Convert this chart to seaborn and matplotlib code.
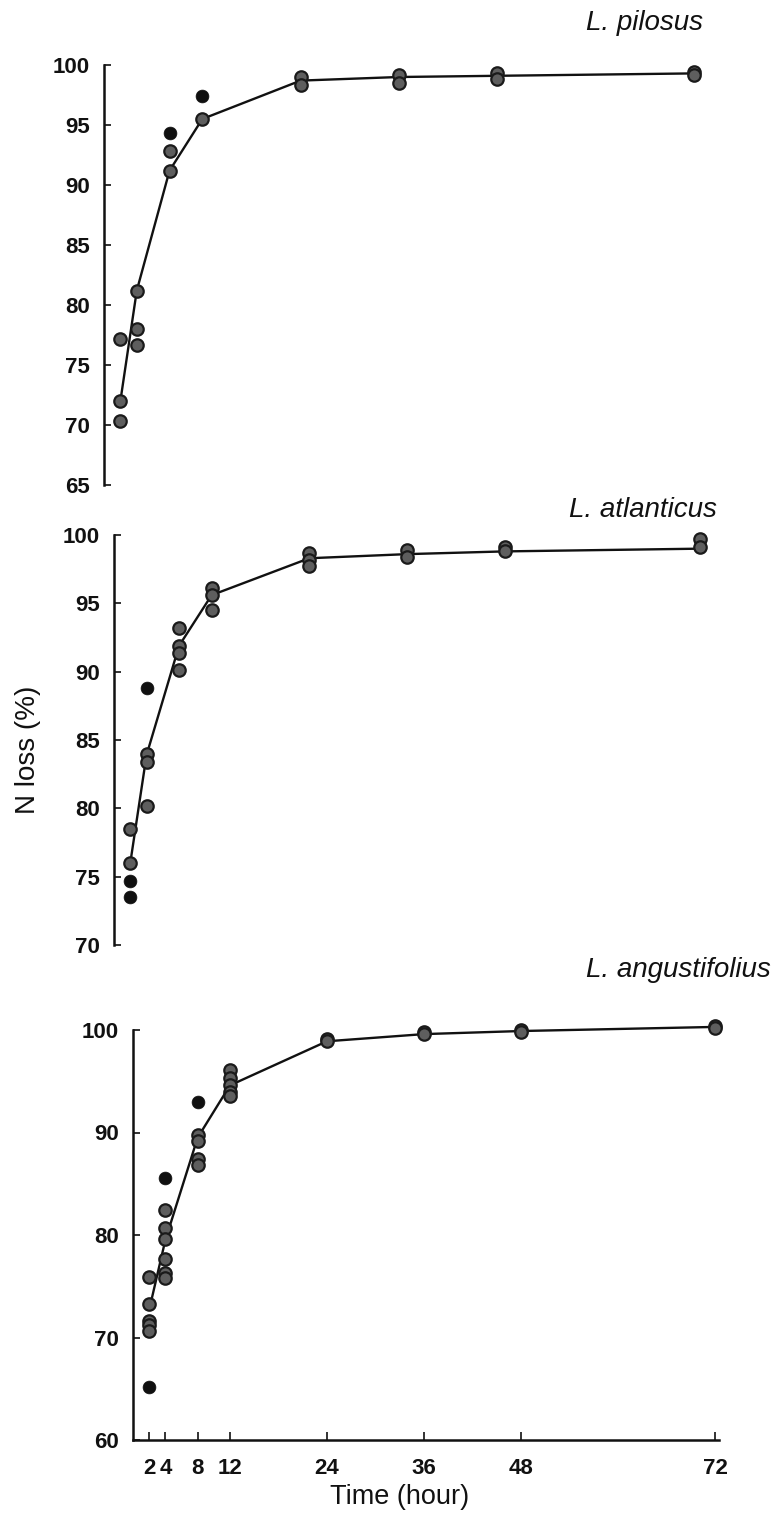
import matplotlib
matplotlib.use("Agg")
import matplotlib.pyplot as plt
import seaborn as sns
import pandas as pd

# ---------------- data ----------------
times = [2, 4, 8, 12, 24, 36, 48, 72]
xtick_labels = ["2", "4", "8", "12", "24", "36", "48", "72"]

species = ["L. pilosus", "L. atlanticus", "L. angustifolius"]

# L. pilosus
pil_t = [2, 2, 2, 4, 4, 4, 8, 8, 8, 12, 12, 24, 24, 36, 36, 48, 48, 72, 72]
pil_v = [77.2, 72.0, 70.3, 81.2, 78.0, 76.7, 94.3, 92.8, 91.2, 97.4, 95.5,
         99.0, 98.3, 99.2, 98.5, 99.3, 98.8, 99.4, 99.2]
pil_k = ["g", "g", "g", "g", "g", "g", "b", "g", "g", "b", "g",
         "g", "g", "g", "g", "g", "g", "g", "g"]
pil_line = [72.0, 81.2, 91.2, 95.5, 98.7, 99.0, 99.1, 99.3]

# L. atlanticus
atl_t = [2, 2, 2, 2, 4, 4, 4, 4, 8, 8, 8, 8, 12, 12, 12, 24, 24, 24,
         36, 36, 48, 48, 72, 72]
atl_v = [78.5, 76.0, 74.7, 73.5, 88.8, 84.0, 83.4, 80.2, 93.2, 91.9, 91.4, 90.1,
         96.1, 95.6, 94.5, 98.7, 98.2, 97.7, 98.9, 98.4, 99.1, 98.8, 99.7, 99.1]
atl_k = ["g", "g", "b", "b", "b", "g", "g", "g", "g", "g", "g", "g",
         "g", "g", "g", "g", "g", "g", "g", "g", "g", "g", "g", "g"]
atl_line = [76.0, 83.9, 91.9, 95.6, 98.3, 98.6, 98.8, 99.0]

# L. angustifolius
ang_t = [2, 2, 2, 2, 2, 2,
         4, 4, 4, 4, 4, 4, 4,
         8, 8, 8, 8, 8,
         12, 12, 12, 12, 12,
         24, 24, 36, 36, 48, 48, 72, 72]
ang_v = [75.9, 73.3, 71.6, 71.2, 70.6, 65.2,
         85.6, 82.4, 80.7, 79.6, 77.7, 76.3, 75.8,
         93.0, 89.8, 89.2, 87.4, 86.8,
         96.1, 95.3, 94.6, 94.0, 93.6,
         99.1, 98.9, 99.8, 99.6, 100.0, 99.8, 100.4, 100.2]
ang_k = ["g", "g", "g", "g", "g", "b",
         "b", "g", "g", "g", "g", "g", "g",
         "b", "g", "g", "g", "g",
         "g", "g", "g", "g", "g",
         "g", "g", "g", "g", "g", "g", "g", "g"]
ang_line = [72.7, 79.5, 89.5, 94.6, 98.9, 99.6, 99.9, 100.3]

yticks_list = [[65, 70, 75, 80, 85, 90, 95, 100],
               [70, 75, 80, 85, 90, 95, 100],
               [60, 70, 80, 90, 100]]
ylims = [(65, 100), (70, 100), (60, 100)]

# ---------------- style ----------------
sns.set_style("ticks")
plt.rcParams["font.family"] = ["Liberation Sans", "DejaVu Sans"]

W, H = 780, 1525
fig = plt.figure(figsize=(W / 100, H / 100), dpi=100)

# axes rectangles in pixels: (left_px, top_px, bottom_px, width_px)
rects = [(104, 65, 485, 594), (114, 535, 945, 590), (133, 1030, 1440, 586)]

panels = [(pil_t, pil_v, pil_k, pil_line),
          (atl_t, atl_v, atl_k, atl_line),
          (ang_t, ang_v, ang_k, ang_line)]

title_pos = [(703, 23), (717, 510), (771, 970)]

for i, ((t, v, k, line), (lp, tp, bp, wp)) in enumerate(zip(panels, rects)):
    ax = fig.add_axes([lp / W, 1 - bp / H, wp / W, (bp - tp) / H])
    df = pd.DataFrame({"t": t, "v": v, "k": k})
    sns.lineplot(x=times, y=line, ax=ax, color="#111111", lw=1.7, zorder=2,
                 clip_on=False)
    sns.scatterplot(data=df[df.k == "g"], x="t", y="v", ax=ax, s=80,
                    color="#5e5e5e", edgecolor="#1a1a1a", linewidth=1.6,
                    zorder=3, legend=False, clip_on=False)
    sns.scatterplot(data=df[df.k == "b"], x="t", y="v", ax=ax, s=85,
                    color="#101010", edgecolor="#101010", linewidth=0.5,
                    zorder=4, legend=False, clip_on=False)
    ax.set_xlim(0, 72.5)
    ax.set_ylim(*ylims[i])
    ax.set_yticks(yticks_list[i])
    ax.set_yticklabels([str(y) for y in yticks_list[i]], fontsize=16,
                       fontweight="bold")
    ax.set_xlabel("")
    ax.set_ylabel("")
    for s in ["top", "right"]:
        ax.spines[s].set_visible(False)
    ax.spines["left"].set_linewidth(1.8)
    ax.spines["left"].set_color("#111111")
    ax.tick_params(axis="y", direction="in", length=5, width=1.2, pad=10,
                   colors="#111111")
    if i < 2:
        ax.spines["bottom"].set_visible(False)
        ax.set_xticks([])
    else:
        ax.spines["bottom"].set_linewidth(1.8)
        ax.spines["bottom"].set_color("#111111")
        ax.set_xticks(times)
        ax.set_xticklabels(xtick_labels, fontsize=16, fontweight="bold")
        ax.tick_params(axis="x", direction="in", length=6, width=1.2, pad=13,
                       colors="#111111")
    ax.patch.set_alpha(0)
    tx, ty = title_pos[i]
    fig.text(tx / W, 1 - ty / H, species[i], ha="right", va="center",
             fontsize=20, fontstyle="italic", color="#111111")

fig.text(28 / W, 1 - 750 / H, "N loss (%)", rotation=90, ha="center",
         va="center", fontsize=20, color="#111111")
fig.text(400 / W, 1 - 1497 / H, "Time (hour)", ha="center", va="center",
         fontsize=19.5, color="#111111")

fig.savefig("out.png", dpi=100, facecolor="white")
